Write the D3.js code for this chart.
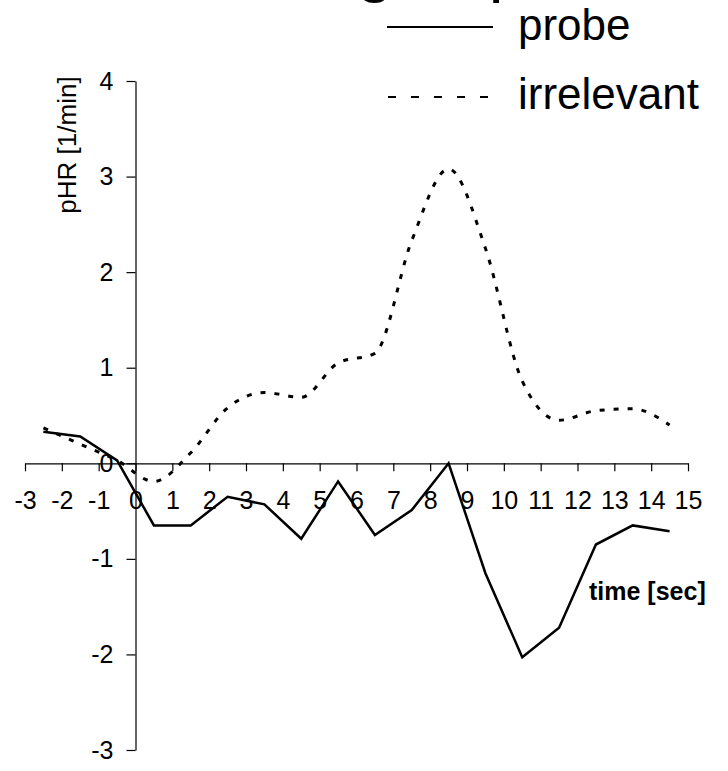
<!DOCTYPE html>
<html>
<head>
<meta charset="utf-8">
<script src="https://cdn.jsdelivr.net/npm/d3@7"></script>
<style>
  body { margin: 0; background: #fff; }
  text { font-family: "Liberation Sans", Arial, sans-serif; fill: #000; }
</style>
</head>
<body>
<div class="center"></div>
<script>
// chart data
var timePoints = [-2.5, -1.5, -0.5, 0.5, 1.5, 2.5, 3.5, 4.5, 5.5, 6.5, 7.5, 8.5, 9.5, 10.5, 11.5, 12.5, 13.5, 14.5];
var probe = [0.33, 0.28, 0.03, -0.65, -0.65, -0.35, -0.43, -0.79, -0.19, -0.75, -0.49, 0.0, -1.15, -2.03, -1.72, -0.85, -0.65, -0.71];
var irrelevant = [0.37, 0.2, 0.03, -0.19, 0.11, 0.58, 0.74, 0.69, 1.05, 1.15, 2.33, 3.08, 2.25, 0.86, 0.45, 0.55, 0.57, 0.40];
var xTicks = [-3, -2, -1, 0, 1, 2, 3, 4, 5, 6, 7, 8, 9, 10, 11, 12, 13, 14, 15];
var yTicks = [-3, -2, -1, 0, 1, 2, 3, 4];
var seriesNames = ["probe", "irrelevant"];

var width = 728, height = 771;

var svg = d3.select(".center").append("svg")
    .attr("width", width)
    .attr("height", height);

// set the ranges
var x = d3.scaleLinear().domain([-3, 15]).range([25, 688]);
var y = d3.scaleLinear().domain([-3, 4]).range([750, 81]);

// title, cut off at the top edge like in the source
svg.append("text")
    .attr("x", 85)
    .attr("y", -11)
    .style("font-size", "66px")
    .text("Innocent group");

// plain hyphen for negatives, as in the original
var fmt = function(d) { return String(d); };

// X axis through zero
svg.append("g")
    .attr("transform", "translate(0," + y(0) + ")")
    .call(d3.axisBottom(x).tickValues(xTicks).tickFormat(fmt)
        .tickSize(8).tickSizeOuter(0).tickPadding(20));

// Y axis through zero
svg.append("g")
    .attr("transform", "translate(" + x(0) + ",0)")
    .call(d3.axisLeft(y).tickValues(yTicks).tickFormat(fmt)
        .tickSize(9).tickSizeOuter(0).tickPadding(13));

svg.selectAll(".tick text")
    .style("font-size", "25px")
    .style("font-family", "'Liberation Sans', Arial, sans-serif");
svg.selectAll(".domain, .tick line")
    .attr("stroke", "#000")
    .attr("stroke-width", 1.2);

// the lines
var probeLine = d3.line()
    .x(function(d, i) { return x(timePoints[i]); })
    .y(function(d) { return y(d); });

var irrLine = d3.line()
    .x(function(d, i) { return x(timePoints[i]); })
    .y(function(d) { return y(d); })
    .curve(d3.curveMonotoneX);

svg.append("path")
    .datum(irrelevant)
    .attr("fill", "none")
    .attr("stroke", "#000")
    .attr("stroke-width", 3)
    .attr("stroke-dasharray", "5,9")
    .attr("d", irrLine);

svg.append("path")
    .datum(probe)
    .attr("fill", "none")
    .attr("stroke", "#000")
    .attr("stroke-width", 2.5)
    .attr("d", probeLine);

// axis titles
svg.append("text")
    .attr("transform", "translate(76,145) rotate(-90)")
    .attr("text-anchor", "middle")
    .style("font-size", "26px")
    .text("pHR [1/min]");

svg.append("text")
    .attr("x", 589)
    .attr("y", 600)
    .style("font-size", "25px")
    .style("font-weight", "bold")
    .text("time [sec]");

// legend
var legend = svg.append("g").attr("class", "legend");

legend.append("line")
    .attr("x1", 387).attr("x2", 493)
    .attr("y1", 27).attr("y2", 27)
    .attr("stroke", "#000")
    .attr("stroke-width", 2);

legend.append("text")
    .attr("x", 518)
    .attr("y", 40)
    .style("font-size", "44px")
    .text(seriesNames[0]);

legend.append("line")
    .attr("x1", 388).attr("x2", 493)
    .attr("y1", 97).attr("y2", 97)
    .attr("stroke", "#000")
    .attr("stroke-width", 2)
    .attr("stroke-dasharray", "8,15");

legend.append("text")
    .attr("x", 518)
    .attr("y", 109)
    .style("font-size", "44px")
    .text(seriesNames[1]);
</script>
</body>
</html>
